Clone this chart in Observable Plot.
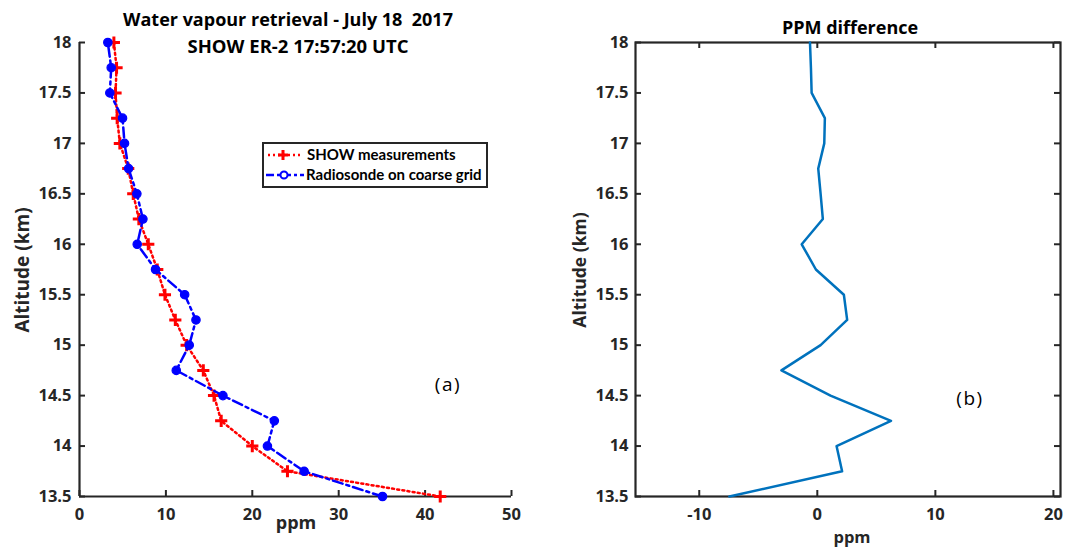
<!DOCTYPE html>
<html><head><meta charset="utf-8">
<script src="https://cdn.jsdelivr.net/npm/d3@7"></script>
<script src="https://cdn.jsdelivr.net/npm/@observablehq/plot@0.6"></script>
<style>
body{margin:0;background:#fff;}
#wrap{position:relative;width:1072px;height:550px;overflow:hidden;font-family:"Open Sans","DejaVu Sans",sans-serif;color:#000;}
.abs{position:absolute;white-space:nowrap;transform:translate(-50%,-50%);line-height:1;}
.rot{transform:translate(-50%,-50%) rotate(-90deg);}
svg.panel{position:absolute;top:0;}
</style></head><body><div id="wrap"></div>
<script>
// ---- data ----
const altitude = [13.5, 13.75, 14.0, 14.25, 14.5, 14.75, 15.0, 15.25, 15.5, 15.75, 16.0, 16.25, 16.5, 16.75, 17.0, 17.25, 17.5, 17.75, 18.0];
const showPpm = [41.75, 24.07, 20.0, 16.4, 15.57, 14.33, 12.4, 11.09, 9.89, 9.0, 7.96, 6.87, 6.22, 5.64, 4.67, 4.36, 4.17, 4.29, 3.98];
const radiosondePpm = [35.07, 26.0, 21.75, 22.55, 16.6, 11.2, 12.7, 13.48, 12.17, 8.8, 6.68, 7.34, 6.64, 5.68, 5.21, 4.98, 3.51, 3.67, 3.28];
const diffPpm = [-7.45, 2.1, 1.63, 6.24, 1.12, -3.04, 0.28, 2.53, 2.25, -0.12, -1.32, 0.47, 0.28, 0.08, 0.59, 0.64, -0.48, -0.54, -0.62];
const altTicks = [13.5, 14, 14.5, 15, 15.5, 16, 16.5, 17, 17.5, 18];
const ppmTicksLeft = [0, 10, 20, 30, 40, 50];
const ppmTicksRight = [-10, 0, 10, 20];
const seriesNames = ["SHOW measurements", "Radiosonde on coarse grid"];

const rows = altitude.map((a, i) => ({alt: a, show: showPpm[i], sonde: radiosondePpm[i], diff: diffPpm[i]}));
const fmt = d => String(d);
const axisCol = "#262626";
const H = 550, MT = 42, MB = 54;
const frameH = H - MT - MB;
const tickLen = 6;
const panelStyle = {fontFamily: "'Open Sans', sans-serif", fontSize: "16.5px", fontWeight: "bold", color: axisCol, background: "transparent", overflow: "visible"};

const wrap = document.getElementById("wrap");

// ---- left panel ----
const LW = 540, LML = 79, LMR = 29;
const lfw = LW - LML - LMR;
const left = Plot.plot({
  width: LW, height: H, marginLeft: LML, marginRight: LMR, marginTop: MT, marginBottom: MB,
  x: {domain: [0, 50]},
  y: {domain: [13.5, 18]},
  style: panelStyle,
  marks: [
    Plot.axisY({ticks: altTicks, tickFormat: fmt, tickSize: 0, tickPadding: 8, label: null}),
    Plot.axisX({ticks: ppmTicksLeft, tickFormat: fmt, tickSize: 0, tickPadding: 12, label: null}),
    Plot.tickY(altTicks, {y: d => d, insetRight: lfw - tickLen, stroke: axisCol, strokeWidth: 2}),
    Plot.tickX(ppmTicksLeft, {x: d => d, insetTop: frameH - tickLen, stroke: axisCol, strokeWidth: 2}),
    Plot.ruleX([0], {stroke: axisCol, strokeWidth: 2.2}),
    Plot.ruleY([13.5], {stroke: axisCol, strokeWidth: 2.2}),
    Plot.line(rows, {x: "show", y: "alt", stroke: "#ff0000", strokeWidth: 2.5, strokeDasharray: "2,3.2"}),
    Plot.dot(rows, {x: "show", y: "alt", symbol: "plus", r: 4, stroke: "#ff0000", strokeWidth: 3}),
    Plot.line(rows, {x: "sonde", y: "alt", stroke: "#0000ff", strokeWidth: 2.5, strokeDasharray: "10,4,3,4"}),
    Plot.dot(rows, {x: "sonde", y: "alt", symbol: "circle", r: 4.2, fill: "#0000ff", stroke: "#0000ff", strokeWidth: 1.2})
  ]
});
left.classList.add("panel");
left.style.left = "0px";
wrap.appendChild(left);

// ---- right panel ----
const RW = 532, RML = 95, RMR = 12;
const rfw = RW - RML - RMR;
const right = Plot.plot({
  width: RW, height: H, marginLeft: RML, marginRight: RMR, marginTop: MT, marginBottom: MB,
  x: {domain: [-15.4, 20.6]},
  y: {domain: [13.5, 18]},
  style: panelStyle,
  marks: [
    Plot.axisY({ticks: altTicks, tickFormat: fmt, tickSize: 0, tickPadding: 7, label: null}),
    Plot.axisX({ticks: ppmTicksRight, tickFormat: fmt, tickSize: 0, tickPadding: 12, label: null}),
    Plot.tickY(altTicks, {y: d => d, insetRight: rfw - tickLen, stroke: axisCol, strokeWidth: 2}),
    Plot.tickY(altTicks, {y: d => d, insetLeft: rfw - tickLen, stroke: axisCol, strokeWidth: 2}),
    Plot.tickX(ppmTicksRight, {x: d => d, insetTop: frameH - tickLen, stroke: axisCol, strokeWidth: 2}),
    Plot.tickX(ppmTicksRight, {x: d => d, insetBottom: frameH - tickLen, stroke: axisCol, strokeWidth: 2}),
    Plot.frame({stroke: axisCol, strokeWidth: 2.2}),
    Plot.line(rows, {x: "diff", y: "alt", stroke: "#0072BD", strokeWidth: 2.5})
  ]
});
right.classList.add("panel");
right.style.left = LW + "px";
wrap.appendChild(right);

// ---- text ----
function addText(txt, x, y, size, weight, rot) {
  const d = document.createElement("div");
  d.className = "abs" + (rot ? " rot" : "");
  d.textContent = txt;
  d.style.left = x + "px";
  d.style.top = y + "px";
  d.style.fontSize = size + "px";
  d.style.fontWeight = weight;
  wrap.appendChild(d);
  return d;
}
addText("Water vapour retrieval - July 18\u00a0 2017", 288, 19, 18, "bold");
addText("SHOW ER-2 17:57:20 UTC", 298, 46, 18.5, "bold");
addText("PPM difference", 850, 27, 18, "bold");
addText("Altitude (km)", 22, 270, 19, "bold", true).style.color = axisCol;
addText("Altitude (km)", 580, 270, 17.5, "bold", true).style.color = axisCol;
addText("ppm", 296, 522, 18, "bold").style.color = axisCol;
addText("ppm", 852, 537, 16.5, "bold").style.color = axisCol;
const ta = addText("(a)", 448, 384, 19, "normal"); ta.style.letterSpacing = "1.5px";
const tb = addText("(b)", 970, 398, 19, "normal"); tb.style.letterSpacing = "1.5px";

// ---- legend ----
const ns = "http://www.w3.org/2000/svg";
const lg = document.createElementNS(ns, "svg");
lg.setAttribute("width", 226); lg.setAttribute("height", 46);
lg.style.position = "absolute"; lg.style.left = "262px"; lg.style.top = "142px";
lg.innerHTML = `
<rect x="1" y="1" width="224" height="44" fill="#fff" stroke="${axisCol}" stroke-width="2"/>
<line x1="6" x2="41" y1="13" y2="13" stroke="#ff0000" stroke-width="2.5" stroke-dasharray="2,3"/>
<path d="M21,8V18M16,13H26" stroke="#ff0000" stroke-width="3"/>
<line x1="4" x2="42" y1="33" y2="33" stroke="#0000ff" stroke-width="2.5" stroke-dasharray="8,3,3,3"/>
<circle cx="22" cy="33" r="3.5" fill="#fff" stroke="#0000ff" stroke-width="2"/>
<text x="45" y="13" dy="0.35em" font-family="Lato, sans-serif" font-weight="bold" font-size="15" fill="#000">${seriesNames[0]}</text>
<text x="44" y="33" dy="0.35em" font-family="Lato, sans-serif" font-weight="bold" font-size="15" fill="#000">${seriesNames[1]}</text>`;
wrap.appendChild(lg);
</script>
</body></html>
